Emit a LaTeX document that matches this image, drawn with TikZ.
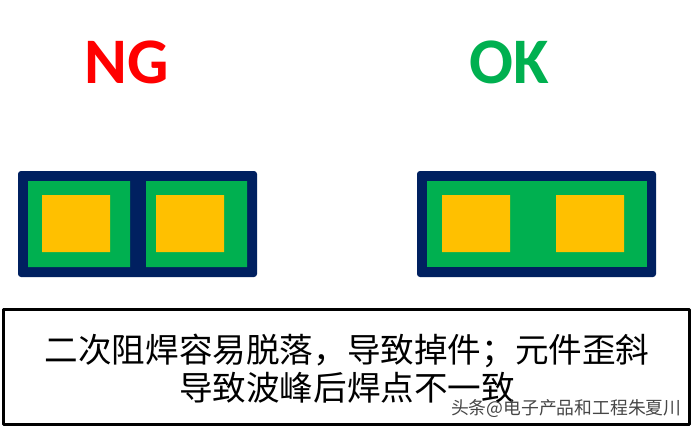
\documentclass[tikz,border=0pt]{standalone}
\usepackage{fontspec}
\newfontfamily\cjk{Noto Sans CJK SC}
\newfontfamily\lat{Carlito}
\definecolor{navy}{RGB}{0,32,96}
\definecolor{maskgreen}{RGB}{0,176,80}
\definecolor{padyellow}{RGB}{255,192,0}
\definecolor{ngred}{RGB}{255,0,0}
\definecolor{markgray}{RGB}{70,70,70}
\begin{document}
\begin{tikzpicture}[x=1pt,y=-1pt, line join=round,
	board/.style={fill=navy, rounded corners=3pt},
	mask/.style={fill=maskgreen},
	pad/.style={fill=padyellow},
	verdict/.style={font=\lat\bfseries\fontsize{65}{65}\selectfont, anchor=base},
	note/.style={font=\cjk\fontsize{33.6}{34}\selectfont}]
	\useasboundingbox (0,0) rectangle (693,428);
	% NG
	\fill[board] (18,171) rectangle (257,277);
	\fill[mask] (28,181) rectangle (130,267) (146,181) rectangle (247,267);
	\fill[pad] (42,195) rectangle (110,252) (156,195) rectangle (224,252);
	\node[verdict, ngred] (ng) at (127,84) {NG};
	% OK
	\fill[board] (417,171) rectangle (656,277);
	\fill[mask] (427,181) rectangle (647,267);
	\fill[pad] (442,195) rectangle (510,252) (556,195) rectangle (624,252);
	\node[verdict, maskgreen] (ok) at (509,84) {OK};
	% note
	\draw[line width=3pt] (3,309) rectangle (689,424);
	\node[note] (line1) at (347,351) {二次阻焊容易脱落，导致掉件；元件歪斜};
	\node[note] (line2) at (347,388) {导致波峰后焊点不一致};
	\node[font=\cjk\fontsize{17.8}{18}\selectfont, markgray, anchor=east] (mark) at (685,409) {头条@电子产品和工程朱夏川};
\end{tikzpicture}
\end{document}
